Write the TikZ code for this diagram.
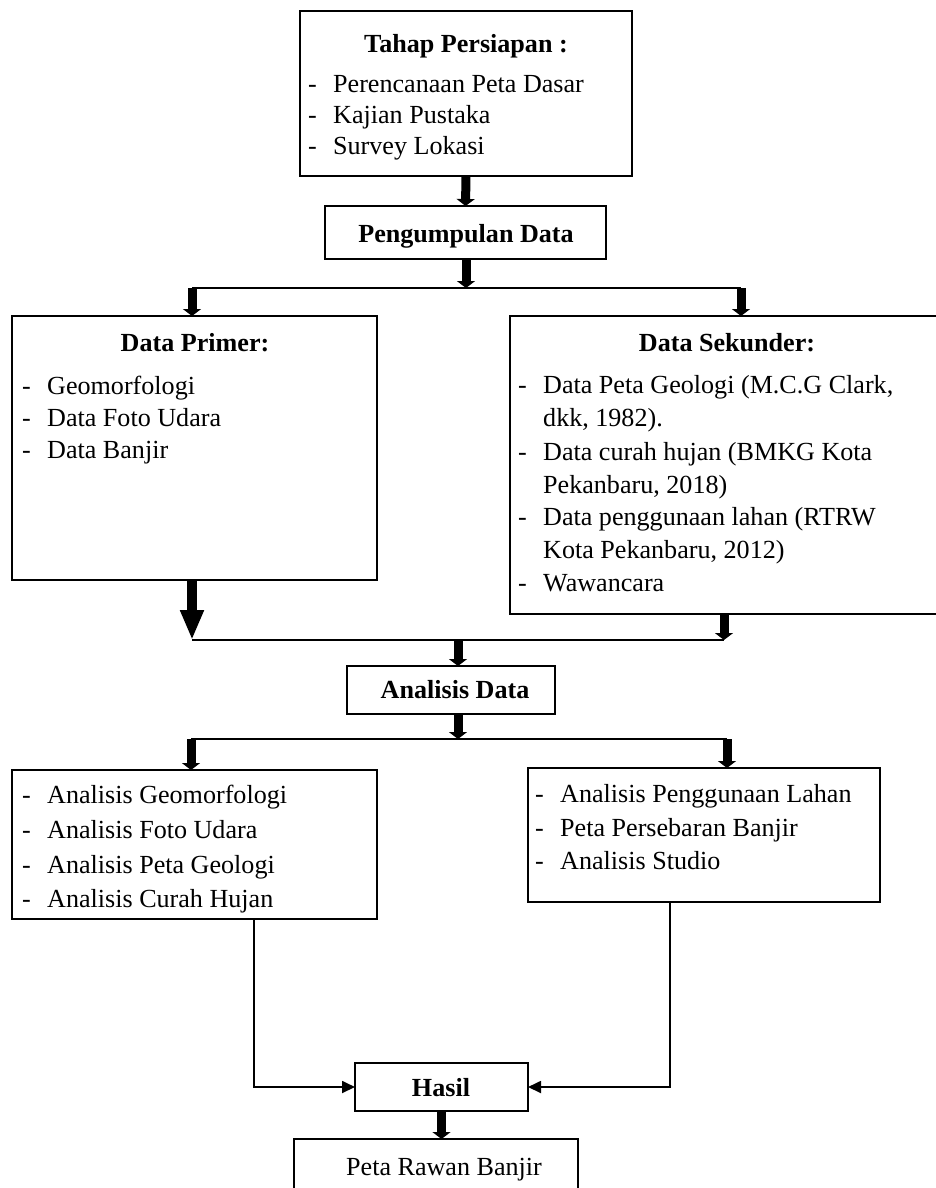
\documentclass[tikz,border=0pt]{standalone}
\usepackage{fontspec}
\setmainfont{Liberation Serif}
\usetikzlibrary{arrows.meta}
\newcommand\dashitem[1]{\makebox[25pt][l]{-}#1}
\begin{document}
\begin{tikzpicture}[x=1pt,y=-1pt,
  box/.style={draw, line width=1.8pt, anchor=north west, inner sep=0pt, outer sep=0pt},
  txt/.style={anchor=base west, inner sep=0pt, font=\fontsize{26.1}{30}\selectfont},
  ttl/.style={anchor=base, inner sep=0pt, font=\fontsize{26.1}{30}\selectfont\bfseries},
  ctr/.style={anchor=base, inner sep=0pt, font=\fontsize{26.1}{30}\selectfont},
  conn/.style={line width=1.8pt},
  fat/.style={line width=9pt, -{Triangle[width=18pt,length=7pt]}},
  bigfat/.style={line width=10pt, -{Triangle[width=22pt,length=30pt]}},
  thinarr/.style={line width=1.8pt, -{Triangle[width=12pt,length=13pt]}},
]
\useasboundingbox (0,0) rectangle (936,1188);
\clip (0,0) rectangle (936,1188);

% boxes
\node[box, minimum width=332pt, minimum height=165pt] (tp) at (300,11) {};
\node[box, minimum width=281pt, minimum height=53pt] (pd) at (325,206) {};
\node[box, minimum width=365pt, minimum height=264pt] (prim) at (12,316) {};
\node[box, minimum width=450pt, minimum height=298pt] (sek) at (510,316) {};
\node[box, minimum width=208pt, minimum height=48pt] (ad) at (347,666) {};
\node[box, minimum width=365pt, minimum height=149pt] (al) at (12,770) {};
\node[box, minimum width=352pt, minimum height=134pt] (ar) at (528,768) {};
\node[box, minimum width=173pt, minimum height=48pt] (hs) at (355,1063) {};
\node[box, minimum width=284pt, minimum height=80pt] (pr) at (294,1139) {};

% texts: top box
\node[ttl] (tpt) at (466,53) {Tahap Persiapan :};
\node[txt] (tp1) at (308,93) {\dashitem{Perencanaan Peta Dasar}};
\node[txt] (tp2) at (308,123.5) {\dashitem{Kajian Pustaka}};
\node[txt] (tp3) at (308,154) {\dashitem{Survey Lokasi}};

\node[ttl] (pdt) at (466,242) {Pengumpulan Data};

% Data Primer
\node[ttl] (prt) at (195,351) {Data Primer:};
\node[txt] (pr1) at (22,394) {\dashitem{Geomorfologi}};
\node[txt] (pr2) at (22,426) {\dashitem{Data Foto Udara}};
\node[txt] (pr3) at (22,458) {\dashitem{Data Banjir}};

% Data Sekunder
\node[ttl] (skt) at (727,351) {Data Sekunder:};
\node[txt] (sk1) at (518,393) {\dashitem{Data Peta Geologi (M.C.G Clark,}};
\node[txt] (sk2) at (518,426) {\hspace*{25pt}dkk, 1982).};
\node[txt] (sk3) at (518,460) {\dashitem{Data curah hujan (BMKG Kota}};
\node[txt] (sk4) at (518,493) {\hspace*{25pt}Pekanbaru, 2018)};
\node[txt] (sk5) at (518,525) {\dashitem{Data penggunaan lahan (RTRW}};
\node[txt] (sk6) at (518,558) {\hspace*{25pt}Kota Pekanbaru, 2012)};
\node[txt] (sk7) at (518,591) {\dashitem{Wawancara}};

\node[ttl] (adt) at (455,698) {Analisis Data};

% analysis boxes
\node[txt] (al1) at (22,803) {\dashitem{Analisis Geomorfologi}};
\node[txt] (al2) at (22,838) {\dashitem{Analisis Foto Udara}};
\node[txt] (al3) at (22,873) {\dashitem{Analisis Peta Geologi}};
\node[txt] (al4) at (22,907) {\dashitem{Analisis Curah Hujan}};

\node[txt] (ar1) at (535,802) {\dashitem{Analisis Penggunaan Lahan}};
\node[txt] (ar2) at (535,836) {\dashitem{Peta Persebaran Banjir}};
\node[txt] (ar3) at (535,869) {\dashitem{Analisis Studio}};

\node[ttl] (hst) at (441,1096) {Hasil};
\node[ctr] (prt2) at (444,1175) {Peta Rawan Banjir};

% junction coordinates
\coordinate (j1) at (466,288);
\coordinate (j1l) at (192,288);
\coordinate (j1r) at (741,288);
\coordinate (j2) at (458,640);
\coordinate (j2l) at (192,640);
\coordinate (j2r) at (724,640);
\coordinate (j3) at (458,739);
\coordinate (j3l) at (191,739);
\coordinate (j3r) at (727,739);
\coordinate (hl) at (254,1087);
\coordinate (hr) at (670,1087);

% connectors
\draw[fat] (tp.south) -- (pd.north);
\draw[fat] (j1 |- pd.south) -- (j1);
\draw[conn] (j1l) -- (j1r);
\draw[fat] (j1l) -- (j1l |- prim.north);
\draw[fat] (j1r) -- (j1r |- sek.north);

\draw[bigfat] (j2l |- prim.south) -- (j2l);
\draw[fat] (j2r |- sek.south) -- (j2r);
\draw[conn] (j2l) -- (j2r);
\draw[fat] (j2) -- (j2 |- ad.north);

\draw[fat] (j3 |- ad.south) -- (j3);
\draw[conn] (j3l) -- (j3r);
\draw[fat] (j3l) -- (j3l |- al.north);
\draw[fat] (j3r) -- (j3r |- ar.north);

\draw[thinarr] (hl |- al.south) -- (hl) -- (hs.west);
\draw[thinarr] (hr |- ar.south) -- (hr) -- (hs.east);
\draw[fat] (hs.south) -- (hs.south |- pr.north);
\end{tikzpicture}
\end{document}
